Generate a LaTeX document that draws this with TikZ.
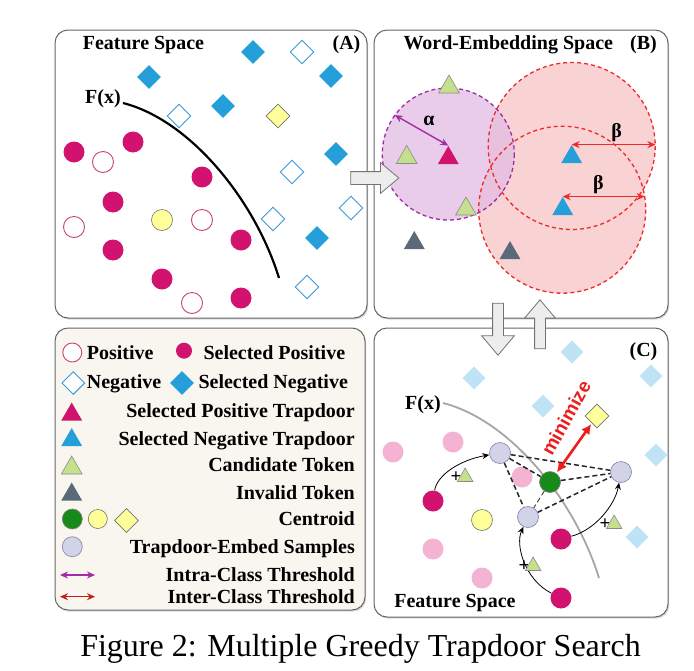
\documentclass[tikz,border=0pt]{standalone}
\usepackage{fontspec}
\setmainfont{Liberation Serif}
\newfontfamily\minfont{Liberation Sans}
\usetikzlibrary{positioning,shapes.geometric,shapes.arrows,arrows.meta,shadows}

\definecolor{selposc}{HTML}{D1126E}
\definecolor{posedge}{HTML}{C8456F}
\definecolor{selnegc}{HTML}{249FDA}
\definecolor{negedge}{HTML}{3A9AD6}
\definecolor{yelc}{HTML}{FFFF99}
\definecolor{candc}{HTML}{C5DF8C}
\definecolor{invc}{HTML}{5A6A79}
\definecolor{lavc}{HTML}{D3D3E8}
\definecolor{lavedge}{HTML}{8A8AB8}
\definecolor{centc}{HTML}{178A1A}
\definecolor{pinkc}{HTML}{F4B3D2}
\definecolor{lbluec}{HTML}{BEE3F5}
\definecolor{purzone}{HTML}{E2BCE2}
\definecolor{puredge}{HTML}{9B2EA0}
\definecolor{redzone}{HTML}{F9D3D3}
\definecolor{rededge}{HTML}{EE2A2A}
\definecolor{legendbg}{HTML}{F8F6EE}
\definecolor{intrac}{HTML}{A52AA8}
\definecolor{interc}{HTML}{C41E1E}
\definecolor{minc}{HTML}{EE1C1C}

\begin{document}
\begin{tikzpicture}[x=1pt, y=-1pt,
  panel/.style={draw=black!60, line width=1pt, rounded corners=13pt, fill=white,
    drop shadow={shadow xshift=1.2pt, shadow yshift=-1.6pt, opacity=0.3}},
  title/.style={font=\bfseries\fontsize{20}{24}\selectfont, inner sep=0pt, anchor=base},
  lgtext/.style={font=\bfseries\fontsize{20}{24}\selectfont, inner sep=0pt},
  dot/.style={circle, inner sep=0pt, minimum size=21pt},
  posdot/.style={dot, draw=posedge, line width=0.9pt, fill=white},
  selpos/.style={dot, fill=selposc},
  pinkdot/.style={dot, fill=pinkc},
  gem/.style={diamond, inner sep=0pt, minimum size=24pt},
  neggem/.style={gem, draw=negedge, line width=0.9pt, fill=white},
  selneg/.style={gem, fill=selnegc},
  bluegem/.style={gem, fill=lbluec, minimum size=23pt},
  ycirc/.style={dot, fill=yelc, draw=black!55, line width=0.6pt},
  ygem/.style={gem, fill=yelc, draw=black!55, line width=0.6pt},
  lav/.style={dot, fill=lavc, draw=lavedge, line width=0.7pt},
  cent/.style={dot, fill=centc, draw=black!50, line width=0.6pt},
  tok/.style={regular polygon, regular polygon sides=3, inner sep=0pt, minimum size=24pt},
  postrap/.style={tok, fill=selposc},
  negtrap/.style={tok, fill=selnegc},
  cand/.style={tok, fill=candc, draw=black!45, line width=0.6pt},
  invalid/.style={tok, fill=invc},
  blockarrow/.style={single arrow, draw=black!55, fill=black!7, line width=0.8pt,
    inner xsep=0pt, single arrow tip angle=80},
  fxline/.style={line width=2.2pt},
  tieline/.style={line width=1.5pt, dash pattern=on 5pt off 3pt, black!85},
  growarrow/.style={-{Stealth[length=7pt,width=6pt]}, line width=0.8pt},
  twoway/.style={{Stealth[length=8pt,width=7pt]}-{Stealth[length=8pt,width=7pt]}, line width=1.4pt},
  plussign/.style={font=\bfseries\fontsize{19}{19}\selectfont, inner sep=0pt}
]
\useasboundingbox (0,0) rectangle (694,670);

% panels
\node[panel, minimum width=312pt, minimum height=288pt] (panA) at (211,174) {};
\node[panel, minimum width=294pt, minimum height=288pt] (panB) at (521,174) {};
\node[panel, fill=legendbg, minimum width=310pt, minimum height=282pt] (legend) at (210,469) {};
\node[panel, minimum width=294pt, minimum height=289pt] (panC) at (521,472.5) {};

% (A) feature space
\node[title] (titA) at (143.5,49.5) {Feature Space};
\node[title] (tagA) at (346.5,49.5) {(A)};
\node[title] (fxA) at (103,103.3) {F(x)};
\coordinate (fxAstart) at (123,103);
\coordinate (fxAend) at (279,278);
\draw[fxline] (fxAstart) .. controls (190,120) and (255,200) .. (fxAend);

\node[selneg] (snA1) at (253,52) {};
\node[selneg] (snA2) at (331,76) {};
\node[selneg] (snA3) at (149,77) {};
\node[selneg] (snA4) at (223,106) {};
\node[selneg] (snA5) at (336,154) {};
\node[selneg] (snA6) at (317,238) {};
\node[neggem] (nA1) at (302,52) {};
\node[neggem] (nA2) at (179,116) {};
\node[neggem] (nA3) at (292,172) {};
\node[neggem] (nA4) at (351,208) {};
\node[neggem] (nA5) at (273,219) {};
\node[neggem] (nA6) at (307,287) {};
\node[ygem] (ygA) at (278,116) {};
\node[selpos] (spA1) at (74,152) {};
\node[selpos] (spA2) at (133,142) {};
\node[selpos] (spA3) at (202,177) {};
\node[selpos] (spA4) at (113,202) {};
\node[selpos] (spA5) at (113,250) {};
\node[selpos] (spA6) at (241,240) {};
\node[selpos] (spA7) at (162,279) {};
\node[selpos] (spA8) at (241,298) {};
\node[posdot] (pA1) at (103,162) {};
\node[posdot] (pA2) at (74,227) {};
\node[posdot] (pA3) at (202,220) {};
\node[posdot] (pA4) at (192,303) {};
\node[ycirc] (ycA) at (162,220) {};

% (B) word-embedding space
\node[title] (titB) at (508.3,49.5) {Word-Embedding Space};
\node[title] (tagB) at (643.5,49.5) {(B)};
\node[circle, fill=redzone, minimum size=167pt, inner sep=0pt] (rzone1) at (571.7,146) {};
\node[circle, fill=redzone, minimum size=167pt, inner sep=0pt] (rzone2) at (562.2,209.7) {};
\node[circle, fill=purzone, fill opacity=0.75, minimum size=132pt, inner sep=0pt] (pzone) at (448.3,154) {};
\draw[rededge, line width=1.3pt, dash pattern=on 4pt off 3pt] (rzone1.center) circle[radius=83.5];
\draw[rededge, line width=1.3pt, dash pattern=on 4pt off 3pt] (rzone2.center) circle[radius=83.5];
\draw[puredge, line width=1.3pt, dash pattern=on 4pt off 3pt] (pzone.center) circle[radius=66];

\node[cand] (cdB1) at (449,87) {};
\node[cand] (cdB2) at (406.7,157.5) {};
\node[cand] (cdB3) at (466,209) {};
\node[postrap] (ptB) at (448.3,158) {};
\node[invalid] (ivB1) at (414.3,243) {};
\node[invalid] (ivB2) at (510,253) {};
\node[negtrap] (ntB1) at (571.7,157) {};
\node[negtrap] (ntB2) at (562.7,209) {};

\draw[twoway, intrac] (pzone.144) -- (ptB.corner 1);
\node[title, anchor=center] (alphaB) at (429,121) {α};
\draw[twoway, rededge] (ntB1.corner 1) -- (ntB1.corner 1 -| rzone1.east);
\node[title, anchor=center] (betaB1) at (616.7,133) {β};
\draw[twoway, rededge] (ntB2.corner 1) -- (ntB2.corner 1 -| rzone2.10);
\node[title, anchor=center] (betaB2) at (598.3,185) {β};

% legend
\node[posdot, minimum size=19pt] (lgPos) at (72.3,352.5) {};
\node[lgtext, anchor=base west] (lgPosT) at (86.7,359.3) {Positive};
\node[selpos, minimum size=16pt] (lgSelPos) at (184,350.7) {};
\node[lgtext, anchor=base west] (lgSelPosT) at (203.3,359.3) {Selected Positive};
\node[neggem, minimum size=23pt] (lgNeg) at (73.3,383) {};
\node[lgtext, anchor=base west] (lgNegT) at (86.7,388.3) {Negative};
\node[selneg] (lgSelNeg) at (182,383) {};
\node[lgtext, anchor=base west] (lgSelNegT) at (198.3,388.3) {Selected Negative};
\node[postrap] (lgPT) at (71.7,414.5) {};
\node[lgtext, anchor=base east] (lgPTT) at (355,417.3) {Selected Positive Trapdoor};
\node[negtrap] (lgNT) at (71.7,440) {};
\node[lgtext, anchor=base east] (lgNTT) at (355,445) {Selected Negative Trapdoor};
\node[cand] (lgCand) at (71.7,468) {};
\node[lgtext, anchor=base east] (lgCandT) at (355,471.7) {Candidate Token};
\node[invalid] (lgInv) at (71.7,494.5) {};
\node[lgtext, anchor=base east] (lgInvT) at (355,499) {Invalid Token};
\node[cent, minimum size=20pt] (lgCent) at (72.3,519) {};
\node[ycirc, minimum size=19pt] (lgYC) at (97.8,519) {};
\node[ygem] (lgYG) at (126.5,520.5) {};
\node[lgtext, anchor=base east] (lgCentT) at (355,525.3) {Centroid};
\node[lav, minimum size=20pt] (lgLav) at (72.3,546.7) {};
\node[lgtext, anchor=base east] (lgLavT) at (355,553.3) {Trapdoor-Embed Samples};
\coordinate (intraL) at (60,575);
\coordinate (intraR) at (95,575);
\draw[twoway, intrac] (intraL) -- (intraR);
\node[lgtext, anchor=base east] (lgIntraT) at (355,581.7) {Intra-Class Threshold};
\coordinate (interL) at (60,596.7);
\coordinate (interR) at (95,596.7);
\draw[twoway, interc] (interL) -- (interR);
\node[lgtext, anchor=base east] (lgInterT) at (355,603.3) {Inter-Class Threshold};

% (C) feature space after trapdoor embedding
\node[title] (tagC) at (643.5,356.7) {(C)};
\node[title] (titC) at (455,607.3) {Feature Space};
\node[title] (fxC) at (423,409.3) {F(x)};
\coordinate (fxCstart) at (443,403);
\coordinate (fxCend) at (599,578);
\draw[black!35, line width=1.8pt] (fxCstart) .. controls (510,420) and (575,500) .. (fxCend);

\node[bluegem] (bgC1) at (572,352) {};
\node[bluegem] (bgC2) at (474,378) {};
\node[bluegem] (bgC3) at (651,376) {};
\node[bluegem] (bgC4) at (543,406) {};
\node[bluegem] (bgC5) at (656,455) {};
\node[bluegem] (bgC6) at (637,537) {};
\node[ygem] (ygC) at (597,416) {};
\node[pinkdot] (pkC1) at (393,452) {};
\node[pinkdot] (pkC2) at (453,442) {};
\node[pinkdot] (pkC3) at (522,477) {};
\node[pinkdot] (pkC4) at (433,549) {};
\node[pinkdot] (pkC5) at (482,578) {};
\node[ycirc] (ycC) at (482,520) {};
\node[selpos] (spC1) at (433,501) {};
\node[selpos] (spC2) at (561,539) {};
\node[selpos] (spC3) at (561,598) {};
\node[lav] (lavC1) at (500,453) {};
\node[lav] (lavC2) at (621,472) {};
\node[lav] (lavC3) at (528,517) {};
\node[cent] (centC) at (550,482) {};

\draw[tieline] (lavC1) -- (lavC2);
\draw[tieline] (lavC1) -- (centC);
\draw[tieline] (lavC1) -- (lavC3);
\draw[tieline] (centC) -- (lavC2);
\draw[tieline] (lavC3) -- (lavC2);
\draw[tieline, line width=0.8pt] (centC) -- (lavC3);

\draw[growarrow] (spC1) .. controls (437,475) and (460,460) .. (lavC1);
\node[plussign] (plusC1) at (456,477) {+};
\node[cand, minimum size=18pt, right=-2pt of plusC1] (tokC1) {};
\draw[growarrow] (spC2) .. controls (595,530) and (615,505) .. (lavC2);
\node[plussign] (plusC2) at (605,524) {+};
\node[cand, minimum size=18pt, right=-2pt of plusC2] (tokC2) {};
\draw[growarrow] (spC3) .. controls (525,580) and (515,545) .. (lavC3);
\node[plussign] (plusC3) at (524,566) {+};
\node[cand, minimum size=18pt, right=-2pt of plusC3] (tokC3) {};

\draw[{Latex[length=10pt,width=10pt]}-{Latex[length=10pt,width=10pt]}, minc, line width=2.6pt, shorten <=1pt, shorten >=1pt] (centC) -- (ygC);
\node[font=\minfont\bfseries\fontsize{19}{19}\selectfont, text=minc, rotate=61, inner sep=0pt] (minlbl) at (566,418) {minimize};

% block arrows between panels
\node[blockarrow, inner ysep=6pt, minimum height=48pt, single arrow head extend=9pt] (toB) at (371,178) {};
\node[blockarrow, inner ysep=5pt, minimum height=52pt, single arrow head extend=11pt, rotate=-90] (toC) at (498,326) {};
\node[blockarrow, inner ysep=5pt, minimum height=49pt, single arrow head extend=10pt, rotate=90] (fromC) at (540,327.5) {};

% caption
\node[font=\fontsize{32}{36}\selectfont, inner sep=0pt, anchor=base] (caption) at (360.5,656) {Figure 2: Multiple Greedy Trapdoor Search};
\end{tikzpicture}
\end{document}
